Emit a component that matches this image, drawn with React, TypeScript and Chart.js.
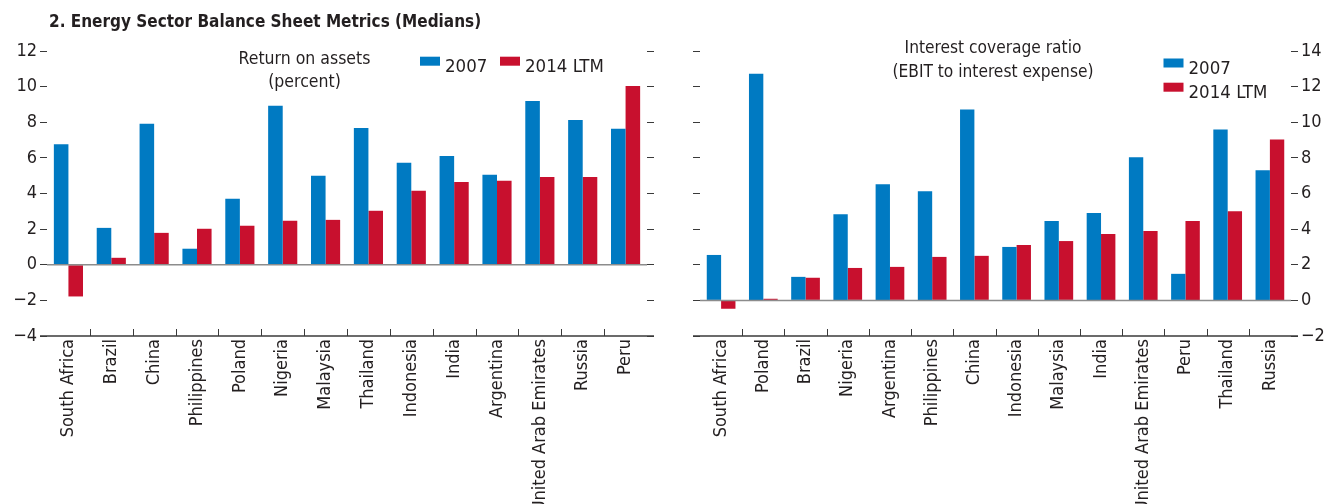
import React, { useEffect, useRef } from "react";
import { Chart, registerables } from "chart.js";

Chart.register(...registerables);

const FONT = '"DejaVu Sans Condensed", "Liberation Sans Narrow", "Arial Narrow", sans-serif';
const TEXT = "#231f20";
const BLUE = "#007ac2";
const RED = "#c8102e";
const TICK = "#3a3a3a";
const ZERO = "#8c8c8c";

// ---- data ----
const mainTitle = "2. Energy Sector Balance Sheet Metrics (Medians)";
const seriesLabels = ["2007", "2014 LTM"];

const roaTitle = ["Return on assets", "(percent)"];
const roaCategories = [
  "South Africa", "Brazil", "China", "Philippines", "Poland", "Nigeria", "Malaysia",
  "Thailand", "Indonesia", "India", "Argentina", "United Arab Emirates", "Russia", "Peru",
];
const roa2007 = [6.77, 2.07, 7.91, 0.9, 3.7, 8.92, 4.99, 7.68, 5.72, 6.11, 5.05, 9.2, 8.13, 7.63];
const roa2014 = [-1.78, 0.39, 1.79, 2.02, 2.19, 2.47, 2.52, 3.03, 4.15, 4.65, 4.71, 4.93, 4.93, 10.04];
const roaTicks = [-4, -2, 0, 2, 4, 6, 8, 10, 12];

const icrTitle = ["Interest coverage ratio", "(EBIT to interest expense)"];
const icrCategories = [
  "South Africa", "Poland", "Brazil", "Nigeria", "Argentina", "Philippines", "China",
  "Indonesia", "Malaysia", "India", "United Arab Emirates", "Peru", "Thailand", "Russia",
];
const icr2007 = [2.55, 12.72, 1.32, 4.84, 6.52, 6.13, 10.71, 3.0, 4.45, 4.9, 8.03, 1.49, 9.59, 7.3];
const icr2014 = [-0.47, 0.09, 1.27, 1.82, 1.88, 2.44, 2.5, 3.11, 3.33, 3.72, 3.89, 4.45, 5.01, 9.03];
const icrTicks = [-2, 0, 2, 4, 6, 8, 10, 12, 14];

// ---- layout / style ----
type Panel = {
  left: number;
  categories: string[];
  v2007: number[];
  v2014: number[];
  ticks: number[];
  title: string[];
  titleX: number;
  titleBaselines: number[];
  titleSize: number;
  legendPos: { x: number; y: number }[];
  legendSize: number;
  leftW: number;
  rightW: number;
  leftLabels: boolean;
  rightLabels: boolean;
  showMainTitle: boolean;
};

const W = 664;
const H = 504;
const TOP = 51;
const XH = 168;
const TL = 7;

const fmt = (v: number) => (v < 0 ? "\u2212" + Math.abs(v) : String(v));

function decorPlugin(p: Panel) {
  return {
    id: "decor",
    afterDatasetsDraw(chart: any) {
      const { ctx, chartArea } = chart;
      const y0 = chart.scales.yL.getPixelForValue(0);
      ctx.save();
      ctx.strokeStyle = ZERO;
      ctx.lineWidth = 1.5;
      ctx.beginPath();
      ctx.moveTo(chartArea.left, y0);
      ctx.lineTo(chartArea.right, y0);
      ctx.stroke();
      ctx.restore();
    },
    afterDraw(chart: any) {
      const { ctx, chartArea } = chart;
      const xs = chart.scales.x;
      ctx.save();
      // bottom axis line
      ctx.strokeStyle = TICK;
      ctx.lineWidth = 1.5;
      const yb = chartArea.bottom;
      ctx.beginPath();
      ctx.moveTo(chartArea.left - TL, yb);
      ctx.lineTo(chartArea.right + TL, yb);
      ctx.stroke();
      // category dividers
      ctx.lineWidth = 1;
      for (let i = 1; i < p.categories.length; i++) {
        const x = Math.round((xs.getPixelForValue(i - 1) + xs.getPixelForValue(i)) / 2) + 0.5;
        ctx.beginPath();
        ctx.moveTo(x, yb);
        ctx.lineTo(x, yb - TL);
        ctx.stroke();
      }
      // panel title
      ctx.fillStyle = TEXT;
      ctx.textAlign = "center";
      ctx.textBaseline = "alphabetic";
      ctx.font = `${p.titleSize}px ${FONT}`;
      p.title.forEach((t, i) => ctx.fillText(t, p.titleX, p.titleBaselines[i]));
      // legend
      ctx.textAlign = "left";
      ctx.font = `${p.legendSize}px ${FONT}`;
      chart.data.datasets.forEach((ds: any, i: number) => {
        const pos = p.legendPos[i];
        ctx.fillStyle = ds.backgroundColor;
        ctx.fillRect(pos.x, pos.y, 20, 9);
        ctx.fillStyle = TEXT;
        ctx.fillText(ds.label, pos.x + 25, pos.y + 15);
      });
      if (p.showMainTitle) {
        ctx.font = `bold 17px ${FONT}`;
        ctx.fillStyle = TEXT;
        ctx.fillText(mainTitle, 49, 26.5);
      }
      ctx.restore();
    },
  };
}

function yAxis(p: Panel, side: "left" | "right") {
  const showLabels = side === "left" ? p.leftLabels : p.rightLabels;
  const width = side === "left" ? p.leftW : p.rightW;
  return {
    position: side,
    min: p.ticks[0],
    max: p.ticks[p.ticks.length - 1],
    afterBuildTicks: (s: any) => {
      s.ticks = p.ticks.map((v) => ({ value: v }));
    },
    ticks: {
      display: showLabels,
      color: TEXT,
      padding: 3,
      font: { family: FONT, size: 18 },
      callback: (v: any) => fmt(Number(v)),
    },
    grid: { drawOnChartArea: false, drawTicks: true, tickLength: TL, color: TICK, lineWidth: 1 },
    border: { display: false },
    afterFit: (s: any) => {
      s.width = width;
    },
  };
}

function BarPanel({ p }: { p: Panel }) {
  const ref = useRef<HTMLCanvasElement>(null);
  useEffect(() => {
    const chart = new Chart(ref.current as HTMLCanvasElement, {
      type: "bar",
      data: {
        labels: p.categories,
        datasets: [
          { label: seriesLabels[0], data: p.v2007, backgroundColor: BLUE, yAxisID: "yL" },
          { label: seriesLabels[1], data: p.v2014, backgroundColor: RED, yAxisID: "yL" },
        ],
      },
      options: {
        animation: false,
        responsive: true,
        maintainAspectRatio: false,
        layout: { padding: { top: TOP, left: 0, right: 0, bottom: 0 } },
        plugins: {
          legend: { display: false },
          tooltip: { enabled: false },
          title: { display: false },
        },
        datasets: { bar: { categoryPercentage: 0.68, barPercentage: 1 } },
        scales: {
          x: {
            type: "category",
            offset: true,
            grid: { display: false, drawTicks: false },
            border: { display: false },
            ticks: {
              autoSkip: false,
              minRotation: 90,
              maxRotation: 90,
              padding: 3,
              color: TEXT,
              font: { family: FONT, size: 18 },
            },
            afterFit: (s: any) => {
              s.height = XH;
            },
          },
          yL: yAxis(p, "left"),
          yR: yAxis(p, "right"),
        },
      } as any,
      plugins: [decorPlugin(p)],
    });
    return () => chart.destroy();
  }, []);
  return (
    <div style={{ position: "absolute", left: p.left, top: 0, width: W, height: H }}>
      <canvas ref={ref} />
    </div>
  );
}

const leftPanel: Panel = {
  left: 0,
  categories: roaCategories,
  v2007: roa2007,
  v2014: roa2014,
  ticks: roaTicks,
  title: roaTitle,
  titleX: 304.5,
  titleBaselines: [64, 87],
  titleSize: 17.5,
  legendPos: [
    { x: 420, y: 56.7 },
    { x: 500, y: 56.7 },
  ],
  legendSize: 18.5,
  leftW: 47,
  rightW: W - 647,
  leftLabels: true,
  rightLabels: false,
  showMainTitle: true,
};

const rightPanel: Panel = {
  left: W,
  categories: icrCategories,
  v2007: icr2007,
  v2014: icr2014,
  ticks: icrTicks,
  title: icrTitle,
  titleX: 993 - W,
  titleBaselines: [53, 77],
  titleSize: 17.2,
  legendPos: [
    { x: 1163.5 - W, y: 58.5 },
    { x: 1163.5 - W, y: 82.7 },
  ],
  legendSize: 18.5,
  leftW: 700 - W,
  rightW: 2 * W - 1291,
  leftLabels: false,
  rightLabels: true,
  showMainTitle: false,
};

export default function App() {
  return (
    <div
      style={{
        position: "fixed",
        left: 0,
        top: 0,
        width: 2 * W,
        height: H,
        background: "#ffffff",
        overflow: "hidden",
      }}
    >
      <BarPanel p={leftPanel} />
      <BarPanel p={rightPanel} />
    </div>
  );
}
